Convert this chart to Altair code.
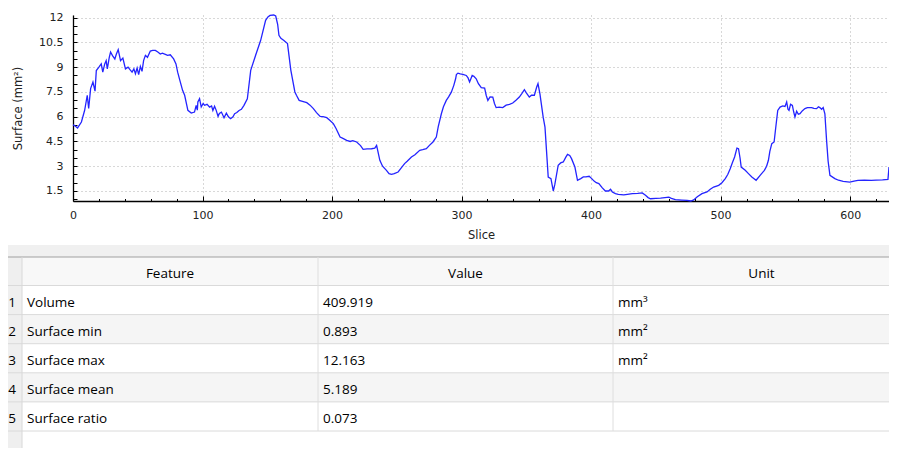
import altair as alt
import pandas as pd

# ---------------- data ----------------
slice_idx = [
    0, 1.5, 3.5, 6.5, 9, 11, 12.1, 13.6, 15.4, 17, 18, 20, 21.8, 23, 24.5, 25.6, 26.5, 28, 29, 30.5,
    32.3, 33.5, 34.9, 36.7, 38.5, 40.5, 42.5, 44, 45.6, 47, 48.2, 49.5, 50.7, 52, 53.3, 54.5, 55.9, 57.5,
    59.7, 61.5, 63.6, 65.5, 67.4, 69, 71.3, 73, 75.1, 77.7, 79.5, 80.8, 82.5, 84.6, 86.2, 88.7, 91.3,
    93.8, 95.1, 96, 96.4, 97.7, 99, 100.5, 101.6, 103.5, 105.5, 107, 108, 109.3, 110.5, 112, 113, 114.6,
    116.6, 118.4, 120, 121.7, 123.5, 124.8, 126.5, 128.2, 130, 132, 134.6, 137.2, 141, 144.9, 148.7,
    150.5, 152.1, 155, 156.5, 158, 159, 160.5, 162.6, 165.6, 168.2, 171.3, 172.5, 174.6, 178.5, 180.5,
    183, 185.6, 188, 190.8, 193, 195.9, 198, 201, 203, 206.2, 208, 211.3, 214, 216, 219, 222, 224, 227,
    230.5, 233, 234.4, 236.9, 239, 242, 244, 245.9, 248, 251, 253, 256, 258, 261.3, 264, 267.7, 270,
    272.8, 275, 277.9, 280.5, 282, 284.4, 286, 288.2, 290, 292.1, 294, 295.4, 296, 297.2, 299, 301,
    303.6, 305, 306.2, 308.2, 309.5, 311.3, 313, 315.2, 317.8, 319, 320.3, 322, 324.1, 325.4, 326.7,
    329, 331.8, 334.4, 337, 339.5, 342, 344.6, 346.5, 348.5, 350, 352.3, 354, 356.2, 358, 359, 360.5,
    363, 364.4, 366.9, 369, 370.8, 372, 374.6, 376.5, 378.5, 380.5, 381.8, 383.5, 384.9, 387.5, 389.5,
    392, 394, 396, 398.5, 400.5, 402.3, 404, 406, 408.5, 411, 413.5, 415, 416.4, 418.8, 421, 425.2,
    428, 431.8, 436, 439.5, 442, 444, 445.9, 450, 453.6, 457, 460, 462, 465.1, 470, 474.1, 477, 479.2,
    482, 485.6, 489.5, 492, 494.6, 498.5, 501, 503.6, 505.5, 507.4, 509, 510.8, 512.6, 513.8, 515,
    515.9, 519, 521.5, 524.1, 527.4, 530.5, 533.8, 535.5, 536.9, 538, 539.5, 541.3, 542.5, 544.1,
    545.9, 548, 549.7, 551, 552, 552.8, 554, 555.4, 556.4, 557.4, 558.7, 560, 561.3, 563, 565.1, 567,
    570.3, 572, 574.1, 575.5, 576.6, 578, 579.2, 580.5, 581.8, 583, 584.4, 588.2, 591, 594.6, 599.7,
    603, 606, 611, 616.4, 620, 625, 629.2, 630,
]
surface_mm2 = [
    5.5, 5.45, 5.32, 5.68, 6.39, 7.3, 6.5, 7.7, 8.1, 7.55, 8.8, 9.0, 9.2, 8.7, 9.2, 9.4, 8.9, 9.6, 9.92, 9.7,
    9.5, 9.8, 10.06, 9.4, 9.55, 8.9, 9.0, 8.85, 8.7, 8.9, 8.6, 8.95, 8.55, 9.05, 8.75, 9.4, 9.72, 9.6,
    9.98, 10.02, 10.02, 9.92, 9.8, 9.85, 9.78, 9.72, 9.75, 9.5, 9.2, 8.7, 8.2, 7.6, 7.3, 6.39, 6.22,
    6.28, 6.69, 6.4, 6.89, 7.09, 6.59, 6.8, 6.69, 6.75, 6.58, 6.65, 6.38, 6.63, 6.4, 6.02, 6.2, 6.28,
    5.94, 6.22, 6.0, 5.88, 6.0, 6.18, 6.25, 6.38, 6.45, 6.69, 7.09, 8.81, 9.72, 10.63, 11.84,
    12.05, 12.14, 12.163, 12.1, 11.6, 10.93, 10.75, 10.63, 10.43, 8.81, 7.5, 7.3, 6.99, 6.9, 6.85,
    6.7, 6.49, 6.25, 6.02, 6.0, 5.94, 5.8, 5.58, 5.3, 4.77, 4.7, 4.57, 4.5, 4.55, 4.47, 4.25, 4.02, 4.05,
    4.06, 4.1, 4.26, 3.36, 3.0, 2.75, 2.55, 2.51, 2.55, 2.65, 2.85, 3.16, 3.3, 3.56, 3.7, 3.96, 4.0,
    4.06, 4.25, 4.47, 4.77, 5.4, 6.18, 6.6, 6.99, 7.2, 7.49, 7.9, 8.3, 8.55, 8.64, 8.6, 8.57,
    8.5, 8.35, 8.1, 8.5, 8.45, 8.3, 8.0, 7.76, 7.74, 7.3, 6.99, 7.2, 7.19, 6.8, 6.55,
    6.58, 6.55, 6.7, 6.75, 6.83, 7.0, 7.19, 7.4, 7.64, 7.45, 7.19, 7.3, 7.3, 7.8, 8.0, 7.38,
    5.97, 5.37, 2.34, 2.25, 1.5, 1.9, 3.06, 3.2, 3.26, 3.55, 3.72, 3.65, 3.46, 2.95, 2.15,
    2.25, 2.35, 2.36, 2.39, 2.25, 2.1, 2.0, 1.95, 1.7, 1.5, 1.5, 1.6, 1.44, 1.34, 1.3, 1.26,
    1.3, 1.34, 1.35, 1.38, 1.24, 1.1, 1.03, 1.05, 1.07, 1.1, 1.13, 1.05, 0.98, 0.95, 0.93, 0.893, 0.96,
    1.15, 1.34, 1.44, 1.6, 1.74, 1.84, 2.0, 2.25, 2.5, 2.85, 3.2, 3.56, 4.1, 4.06, 3.5,
    2.95, 2.75, 2.55, 2.35, 2.15, 2.45, 2.75, 3.0, 3.36, 3.9, 4.37, 4.47, 5.3, 6.38,
    6.58, 6.65, 6.62, 6.89, 6.45, 6.38, 6.75, 6.68, 6.3, 5.98, 6.33, 6.15, 6.18, 6.35, 6.49, 6.55,
    6.55, 6.5, 6.49, 6.6, 6.55, 6.45, 6.55, 6.18, 4.57, 3.3, 2.45, 2.25, 2.15, 2.08, 2.04,
    2.1, 2.14, 2.15, 2.14, 2.16, 2.17, 2.2, 2.95,
]

feature_names = ["Volume", "Surface min", "Surface max", "Surface mean", "Surface ratio"]
feature_values = ["409.919", "0.893", "12.163", "5.189", "0.073"]
feature_units = ["mm³", "mm²", "mm²", "", ""]
column_headers = ["Feature", "Value", "Unit"]

x_tick_values = [0, 100, 200, 300, 400, 500, 600]
x_minor_values = [v for v in range(20, 640, 20) if v % 100 != 0]
y_tick_values = [1.5, 3, 4.5, 6, 7.5, 9, 10.5, 12]
y_minor_values = [1 + 0.5 * i for i in range(23)]

# ---------------- layout (page pixels) ----------------
PLOT_L, PLOT_T, W, H = 73, 15, 816, 186
CANVAS_W, CANVAS_H = 881, 440
X_MAX = 630
Y_MIN, Y_MAX = 0.893, 12.163

COL_EDGES = [0, 22, 318, 613, 910]
TABLE_R = 897
BAND_TOP = 245
TABLE_TOP = 257
HEADER_BOTTOM = 285.5
ROW_H = 29.1
PAGE_BOTTOM = 462

FONT_AX = "DejaVu Sans"
FONT_TB = "Open Sans"
TB_SIZE = 13.5

df = pd.DataFrame({"slice": slice_idx, "surface": surface_mm2})
tick_df = pd.DataFrame({"slice": [0], "surface": [Y_MIN]})

xs = alt.Scale(domain=[0, X_MAX], nice=False, zero=False)
ys = alt.Scale(domain=[Y_MIN, Y_MAX], nice=False, zero=False)

grid_kw = dict(grid=True, gridColor="#b0b0b0", gridDash=[1, 3], gridWidth=1)

line = alt.Chart(df).mark_line(color="#2424ff", strokeWidth=1.3).encode(
    x=alt.X("slice:Q", scale=xs, axis=alt.Axis(
        orient="bottom", values=x_tick_values, format="d", title="Slice",
        ticks=False, tickSize=0, domainColor="#000", domainWidth=1.3,
        labelFont=FONT_AX, labelFontSize=11, labelColor="#222",
        labelBaseline="alphabetic", labelPadding=17, labelFlush=False, labelOverlap=False,
        titleFont=FONT_AX, titleFontSize=11.5, titleFontWeight="normal", titleColor="#222",
        titleBaseline="alphabetic", titleY=37, titleX=W / 2, **grid_kw)),
    y=alt.Y("surface:Q", scale=ys, axis=alt.Axis(
        orient="left", values=y_tick_values, labelExpr="datum.value + ''", title="Surface (mm²)",
        ticks=False, tickSize=0, domainColor="#000", domainWidth=1.3,
        labelFont=FONT_AX, labelFontSize=11, labelColor="#222", labelPadding=10,
        labelFlush=False, labelOverlap=False,
        titleFont=FONT_AX, titleFontSize=11.5, titleFontWeight="normal", titleColor="#222",
        titleX=-55, titleY=H / 2, titleBaseline="middle", titleAlign="center", **grid_kw)),
)


def x_tick_layer(values, size):
    return alt.Chart(tick_df).mark_point(opacity=0).encode(
        x=alt.X("slice:Q", scale=xs, axis=alt.Axis(
            orient="top", offset=-H, values=values, labels=False, domain=False, grid=False,
            ticks=True, tickSize=size, tickColor="#000", tickWidth=1, title=None)),
        y=alt.Y("surface:Q", scale=ys, axis=None),
    )


y_ticks = alt.Chart(tick_df).mark_point(opacity=0).encode(
    x=alt.X("slice:Q", scale=xs, axis=None),
    y=alt.Y("surface:Q", scale=ys, axis=alt.Axis(
        orient="right", offset=-W, values=y_minor_values, labels=False, domain=False, grid=False,
        ticks=True, tickSize=4, tickColor="#000", tickWidth=1, title=None)),
)

# ---------------- table ----------------
tx = alt.Scale(domain=[0, 1000], range=[-PLOT_L, 1000 - PLOT_L], nice=False, zero=False)
ty = alt.Scale(domain=[0, 1000], range=[-PLOT_T, 1000 - PLOT_T], nice=False, zero=False)

n_rows = len(feature_names)
row_tops = [HEADER_BOTTOM + i * ROW_H for i in range(n_rows)]
table_bottom = HEADER_BOTTOM + n_rows * ROW_H

rects = [
    (0, TABLE_R, BAND_TOP, TABLE_TOP, "#f0f0f0"),
    (COL_EDGES[1], TABLE_R, TABLE_TOP, HEADER_BOTTOM, "#f8f8f8"),
    (0, COL_EDGES[1], TABLE_TOP, PAGE_BOTTOM, "#efefef"),
]
for i, top in enumerate(row_tops):
    if i % 2 == 1:
        rects.append((COL_EDGES[1], TABLE_R, top, top + ROW_H, "#f5f5f5"))
rect_df = pd.DataFrame(rects, columns=["x", "x2", "y", "y2", "fill"])

rules = [(0, TABLE_R, TABLE_TOP, TABLE_TOP, "#a0a0a0")]
for k in range(n_rows + 1):
    yy = HEADER_BOTTOM + k * ROW_H
    rules.append((0, TABLE_R, yy, yy, "#dadada"))
rules.append((COL_EDGES[1], COL_EDGES[1], TABLE_TOP, PAGE_BOTTOM, "#d8d8d8"))
for e in COL_EDGES[2:4]:
    rules.append((e, e, TABLE_TOP, table_bottom, "#dedede"))
rule_df = pd.DataFrame(rules, columns=["x", "x2", "y", "y2", "color"])

center_txt = []
for j, h in enumerate(column_headers):
    center_txt.append(((COL_EDGES[j + 1] + COL_EDGES[j + 2]) / 2, TABLE_TOP + 21, h))
for i in range(n_rows):
    center_txt.append((12, row_tops[i] + 21.5, str(i + 1)))
center_df = pd.DataFrame(center_txt, columns=["x", "y", "label"])

left_txt = []
for i in range(n_rows):
    for j, col in enumerate([feature_names, feature_values, feature_units]):
        left_txt.append((COL_EDGES[j + 1] + 5, row_tops[i] + 21.5, col[i]))
left_df = pd.DataFrame(left_txt, columns=["x", "y", "label"])

rect_layer = alt.Chart(rect_df).mark_rect().encode(
    x=alt.X("x:Q", scale=tx, axis=None), x2="x2:Q",
    y=alt.Y("y:Q", scale=ty, axis=None), y2="y2:Q",
    color=alt.Color("fill:N", scale=None),
)
rule_layer = alt.Chart(rule_df).mark_rule(strokeWidth=1).encode(
    x=alt.X("x:Q", scale=tx, axis=None), x2="x2:Q",
    y=alt.Y("y:Q", scale=ty, axis=None), y2="y2:Q",
    color=alt.Color("color:N", scale=None),
)
center_layer = alt.Chart(center_df).mark_text(
    align="center", baseline="alphabetic", font=FONT_TB, fontSize=TB_SIZE, color="#000"
).encode(
    x=alt.X("x:Q", scale=tx, axis=None), y=alt.Y("y:Q", scale=ty, axis=None), text="label:N"
)
left_layer = alt.Chart(left_df).mark_text(
    align="left", baseline="alphabetic", font=FONT_TB, fontSize=TB_SIZE, color="#000"
).encode(
    x=alt.X("x:Q", scale=tx, axis=None), y=alt.Y("y:Q", scale=ty, axis=None), text="label:N"
)

chart = alt.layer(
    line, x_tick_layer(x_tick_values, 5), x_tick_layer(x_minor_values, 2.5), y_ticks,
    rect_layer, rule_layer, center_layer, left_layer,
).resolve_scale(x="independent", y="independent").properties(
    width=W, height=H,
    padding={"left": PLOT_L - 8, "top": PLOT_T - 8, "right": CANVAS_W - (PLOT_L - 8) - W,
             "bottom": CANVAS_H - (PLOT_T - 8) - H},
    autosize=alt.AutoSizeParams(type="none"),
    background="white",
).configure_view(strokeWidth=0)

chart.save("out.html", embed_options={"renderer": "svg", "actions": False})
